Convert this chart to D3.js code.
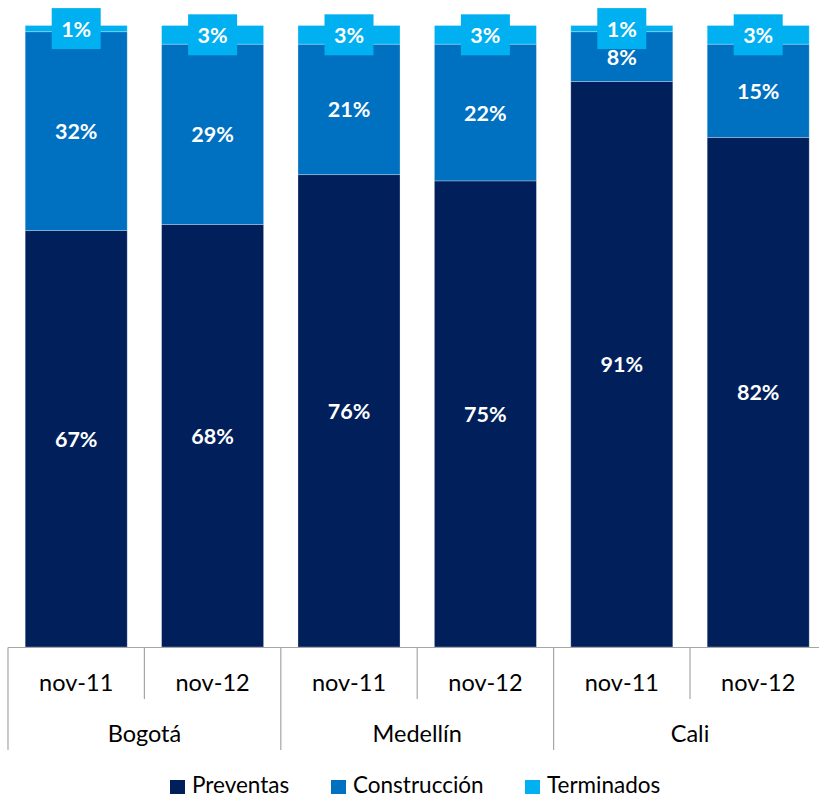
<!DOCTYPE html>
<html>
<head>
<meta charset="utf-8">
<script src="https://cdn.jsdelivr.net/npm/d3@7"></script>
<style>
  html, body { margin: 0; padding: 0; background: #fff; }
  svg { display: block; font-family: Lato, "Open Sans", sans-serif; }
</style>
</head>
<body>
<svg id="chart" width="819" height="798"></svg>
<script>
// Inventory by construction stage, per city and period (share of units, %)
const cities = ["Bogotá", "Medellín", "Cali"];
const periods = ["nov-11", "nov-12"];
const seriesNames = ["Preventas", "Construcción", "Terminados"];
const seriesColors = ["#001F5B", "#0070C0", "#00B0F0"];
const preventas    = [67, 68, 76, 75, 91, 82];
const construccion = [32, 29, 21, 22, 8, 15];
const terminados   = [1, 3, 3, 3, 1, 3];

const rows = [];
cities.forEach((c, i) => periods.forEach((p, j) => {
  const k = i * periods.length + j;
  rows.push({ key: c + "|" + p, city: c, period: p,
    Preventas: preventas[k], "Construcción": construccion[k], Terminados: terminados[k] });
}));

const svg = d3.select("#chart");
const plotLeft = 8, plotRight = 826.4, plotTop = 25.5, plotBottom = 647;

const x = d3.scaleBand().domain(rows.map(d => d.key))
  .range([plotLeft, plotRight]).paddingInner(0.252).paddingOuter(0.126);
const y = d3.scaleLinear().domain([0, 100]).range([plotBottom, plotTop]);
const color = d3.scaleOrdinal().domain(seriesNames).range(seriesColors);

const stacked = d3.stack().keys(seriesNames)(rows);

const layers = svg.append("g").selectAll("g").data(stacked).join("g")
  .attr("fill", d => color(d.key));

layers.selectAll("rect").data(d => d).join("rect")
  .attr("x", d => x(d.data.key))
  .attr("width", x.bandwidth())
  .attr("y", d => y(d[1]))
  .attr("height", d => y(d[0]) - y(d[1]))
  .attr("stroke", "rgba(255,255,255,0.35)")
  .attr("stroke-width", 0.8);

// Value labels
const labels = svg.append("g");
stacked.forEach(layer => {
  layer.forEach(d => {
    const cx = x(d.data.key) + x.bandwidth() / 2;
    const cy = (y(d[0]) + y(d[1])) / 2;
    const v = d[1] - d[0];
    if (layer.key === "Terminados") {
      labels.append("rect")
        .attr("x", cx - 24.5).attr("y", cy - 20.5)
        .attr("width", 49).attr("height", 41)
        .attr("fill", color(layer.key));
    }
    labels.append("text")
      .attr("x", cx).attr("y", cy)
      .attr("text-anchor", "middle").attr("dominant-baseline", "central")
      .attr("fill", "#fff").attr("font-weight", "bold").attr("font-size", 21.5)
      .text(v + "%");
  });
});

// Two-level category axis
const axis = svg.append("g").attr("stroke", "#A6A6A6").attr("stroke-width", 1.2);
axis.append("line").attr("x1", plotLeft).attr("x2", plotRight)
  .attr("y1", plotBottom + 0.5).attr("y2", plotBottom + 0.5);
const step = x.step();
const bandStart = k => x(k) - x.paddingInner() * step / 2;
rows.forEach((d, i) => {
  const bx = bandStart(d.key);
  const major = i % periods.length === 0;
  axis.append("line").attr("x1", bx).attr("x2", bx)
    .attr("y1", plotBottom + 0.5).attr("y2", major ? 750 : 699);
});

const axisText = svg.append("g").attr("fill", "#000").attr("font-size", 23.5).attr("text-anchor", "middle");
rows.forEach(d => {
  axisText.append("text").attr("x", x(d.key) + x.bandwidth() / 2).attr("y", 682)
    .attr("dominant-baseline", "central").text(d.period);
});
cities.forEach((c, i) => {
  const k0 = rows[i * periods.length].key;
  const k1 = rows[i * periods.length + periods.length - 1].key;
  const cx = (x(k0) + x(k1) + x.bandwidth()) / 2;
  axisText.append("text").attr("x", cx).attr("y", 733)
    .attr("dominant-baseline", "central").text(c);
});

// Legend
const legendX = [170, 331, 525];
const legend = svg.append("g");
seriesNames.forEach((s, i) => {
  legend.append("rect").attr("x", legendX[i]).attr("y", 780).attr("width", 15).attr("height", 14)
    .attr("fill", color(s));
  legend.append("text").attr("x", legendX[i] + 22).attr("y", 793)
    .attr("font-size", 22.5).attr("fill", "#000").text(s);
});
</script>
</body>
</html>
